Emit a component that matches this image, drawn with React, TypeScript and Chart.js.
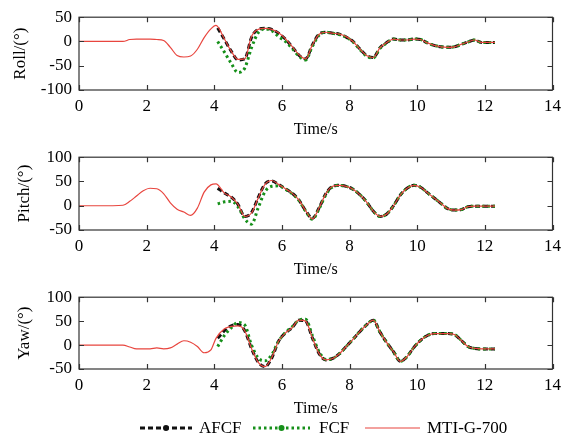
import React, { useEffect, useRef } from 'react';
import { Chart, registerables } from 'chart.js';

Chart.register(...registerables);

const FONT = "'Liberation Serif', 'Times New Roman', Times, serif";
Chart.defaults.font.family = FONT;

// time axis (s)
const mtiTime = [0, 0.5, 1.0, 1.3, 1.5, 1.7, 1.9, 2.1, 2.3, 2.5, 2.7, 2.9, 3.1, 3.3, 3.5, 3.7, 3.9, 4.05, 4.3, 4.5, 4.7, 4.9, 5.1, 5.3, 5.5, 5.7, 5.9, 6.1, 6.3, 6.5, 6.7, 6.9, 7.1, 7.3, 7.5, 7.7, 7.9, 8.1, 8.3, 8.5, 8.7, 8.9, 9.1, 9.3, 9.5, 9.7, 9.9, 10.1, 10.3, 10.5, 10.7, 10.9, 11.1, 11.3, 11.5, 11.7, 11.9, 12.1, 12.3];
const filterTime = [4.1, 4.3, 4.5, 4.7, 4.9, 5.1, 5.3, 5.5, 5.7, 5.9, 6.1, 6.3, 6.5, 6.7, 6.9, 7.1, 7.3, 7.5, 7.7, 7.9, 8.1, 8.3, 8.5, 8.7, 8.9, 9.1, 9.3, 9.5, 9.7, 9.9, 10.1, 10.3, 10.5, 10.7, 10.9, 11.1, 11.3, 11.5, 11.7, 11.9, 12.1, 12.3];

// Roll
const rollMti = [0, 0, 0, 0, 4, 5, 5, 5, 4, 2, -12, -29, -32, -30, -16, 8, 26, 33, 5, -20, -37, -36, 10, 25, 27, 25, 18, 6, -10, -27, -36, -7, 15, 19, 17, 15, 10, 0, -15, -29, -33, -13, -2, 5, 3, 3, 5, 4, -3, -8, -11, -12, -11, -6, -1, 3, -2, -2, -2];
const rollAfcf = [28, 4, -20, -38, -36, 8, 25, 27, 25, 17, 5, -11, -28, -36, -7, 15, 19, 17, 15, 9, 0, -15, -29, -33, -13, -2, 5, 3, 3, 5, 4, -3, -8, -11, -12, -11, -6, -1, 3, -2, -2, -2];
const rollFcf = [0, -22, -45, -64, -55, -13, 18, 26, 22, 10, 0, -14, -30, -38, -10, 13, 19, 17, 14, 9, -1, -16, -30, -34, -14, -3, 5, 3, 3, 5, 4, -3, -8, -11, -12, -11, -6, -1, 3, -2, -2, -2];

// Pitch
const pitchMti = [0, 0, 0, 1, 9, 20, 31, 36, 35, 25, 6, -7, -13, -20, -5, 28, 43, 45, 26, 18, 3, -22, -15, 16, 44, 52, 44, 35, 26, 12, -10, -27, -4, 25, 40, 42, 40, 34, 23, 8, -11, -22, -17, 0, 22, 36, 42, 38, 27, 16, 5, -6, -9, -8, -2, -1, -1, -1, -1];
const pitchAfcf = [36, 26, 18, 3, -22, -14, 17, 45, 51, 44, 35, 26, 12, -10, -26, -4, 25, 40, 42, 40, 34, 23, 8, -11, -22, -17, 0, 22, 36, 42, 38, 27, 16, 5, -6, -9, -8, -2, -1, -1, -1, -1];
const pitchFcf = [4, 8, 9, -2, -27, -38, -4, 29, 40, 41, 34, 25, 11, -11, -28, -6, 23, 39, 42, 40, 34, 23, 8, -11, -22, -17, 0, 22, 36, 42, 38, 27, 16, 5, -6, -9, -8, -2, -1, -1, -1, -1];

// Yaw
const yawMti = [0, 0, 0, 0, -4, -8, -8, -8, -6, -8, -6, 2, 9, 6, -3, -16, -10, 14, 34, 39, 40, 30, -7, -36, -45, -26, 8, 25, 36, 52, 50, 15, -18, -31, -28, -18, -3, 12, 28, 42, 52, 27, 5, -14, -34, -24, -5, 10, 20, 24, 24, 24, 22, 10, -3, -7, -8, -8, -8];
const yawAfcf = [14, 30, 40, 43, 30, -7, -36, -45, -27, 8, 25, 36, 52, 50, 15, -18, -31, -28, -18, -3, 12, 28, 42, 52, 27, 5, -14, -34, -24, -5, 10, 20, 24, 24, 24, 22, 10, -3, -7, -8, -8, -8];
const yawFcf = [-3, 20, 36, 47, 42, 0, -27, -33, -20, 8, 26, 38, 52, 54, 20, -14, -30, -28, -18, -3, 12, 28, 42, 52, 27, 5, -14, -34, -24, -5, 10, 20, 24, 24, 24, 22, 10, -3, -7, -8, -8, -8];

const xTicksStep = 2;
const yTicksStep = 50;

const seriesNames = ['AFCF', 'FCF', 'MTI-G-700'];
const RED = '#e8453e';
const GREEN = '#16901a';
const BLACK = '#111111';

const pts = (t: number[], v: number[]) => t.map((x, i) => ({ x, y: v[i] }));

const boxPlugin = {
  id: 'matlabBox',
  afterDraw(chart: any) {
    const { ctx, chartArea } = chart;
    const { left, right, top, bottom } = chartArea;
    const xs = chart.scales.x;
    const ys = chart.scales.y;
    ctx.save();
    ctx.strokeStyle = '#333';
    ctx.lineWidth = 1.2;
    ctx.setLineDash([]);
    ctx.strokeRect(left, top, right - left, bottom - top);
    ctx.beginPath();
    const tl = 5;
    xs.ticks.forEach((t: any) => {
      const px = Math.round(xs.getPixelForValue(t.value)) + 0.5;
      ctx.moveTo(px, bottom);
      ctx.lineTo(px, bottom - tl);
      ctx.moveTo(px, top);
      ctx.lineTo(px, top + tl);
    });
    ys.ticks.forEach((t: any) => {
      const py = Math.round(ys.getPixelForValue(t.value)) + 0.5;
      ctx.moveTo(left, py);
      ctx.lineTo(left + tl, py);
      ctx.moveTo(right, py);
      ctx.lineTo(right - tl, py);
    });
    ctx.stroke();
    ctx.restore();
  },
};

const legendPlugin = {
  id: 'bottomLegend',
  afterDraw(chart: any, _args: any, opts: any) {
    if (!opts || !opts.show) return;
    const { ctx } = chart;
    const y = opts.y;
    const ds = chart.data.datasets;
    const items = [
      { ds: ds[2], x0: 140, x1: 192, tx: 199 },
      { ds: ds[1], x0: 253, x1: 310, tx: 319 },
      { ds: ds[0], x0: 365, x1: 420, tx: 427 },
    ];
    ctx.save();
    items.forEach((it) => {
      const d = it.ds;
      ctx.strokeStyle = d.borderColor;
      ctx.lineWidth = d.borderWidth;
      ctx.setLineDash(d.borderDash || []);
      ctx.lineCap = 'butt';
      ctx.beginPath();
      ctx.moveTo(it.x0, y);
      ctx.lineTo(it.x1, y);
      ctx.stroke();
      ctx.setLineDash([]);
      if (d.legendMarker) {
        ctx.fillStyle = d.borderColor;
        ctx.beginPath();
        ctx.arc((it.x0 + it.x1) / 2, y, 3, 0, Math.PI * 2);
        ctx.fill();
      }
      ctx.fillStyle = '#000';
      ctx.font = `17px ${FONT}`;
      ctx.textBaseline = 'middle';
      ctx.textAlign = 'left';
      ctx.fillText(d.label, it.tx, y + 1);
    });
    ctx.restore();
  },
};

type PanelProps = {
  top: number;
  height: number;
  padTop: number;
  padBottom: number;
  yMin: number;
  yMax: number;
  yLabel: string;
  yTitlePad: number;
  mti: number[];
  afcf: number[];
  fcf: number[];
  legend?: boolean;
};

function Panel(p: PanelProps) {
  const ref = useRef<HTMLCanvasElement>(null);
  useEffect(() => {
    if (!ref.current) return;
    const chart = new Chart(ref.current, {
      type: 'line',
      data: {
        datasets: [
          {
            label: seriesNames[2],
            data: pts(mtiTime, p.mti),
            borderColor: RED,
            borderWidth: 1.2,
            pointRadius: 0,
            cubicInterpolationMode: 'monotone',
            order: 0,
          } as any,
          {
            label: seriesNames[1],
            data: pts(filterTime, p.fcf),
            borderColor: GREEN,
            borderWidth: 3,
            borderDash: [2.5, 3],
            pointRadius: 0,
            cubicInterpolationMode: 'monotone',
            order: 1,
            legendMarker: true,
          } as any,
          {
            label: seriesNames[0],
            data: pts(filterTime, p.afcf),
            borderColor: BLACK,
            borderWidth: 3,
            borderDash: [5, 3],
            pointRadius: 0,
            cubicInterpolationMode: 'monotone',
            order: 2,
            legendMarker: true,
          } as any,
        ],
      },
      options: {
        animation: false,
        responsive: false,
        maintainAspectRatio: false,
        layout: { padding: { top: p.padTop, right: 12, bottom: p.padBottom, left: 0 } },
        plugins: {
          legend: { display: false },
          tooltip: { enabled: false },
          bottomLegend: { show: !!p.legend, y: 148 },
        } as any,
        scales: {
          x: {
            type: 'linear',
            min: 0,
            max: 14,
            ticks: { stepSize: xTicksStep, color: '#000', font: { family: FONT, size: 17 }, padding: 6, maxRotation: 0 },
            grid: { display: false, drawTicks: false },
            border: { display: false },
            title: { display: true, text: 'Time/s', color: '#000', font: { family: FONT, size: 16 }, padding: { top: 0, bottom: 1 } },
            afterFit: (s: any) => { s.height = 50; },
          },
          y: {
            type: 'linear',
            min: p.yMin,
            max: p.yMax,
            ticks: { stepSize: yTicksStep, color: '#000', font: { family: FONT, size: 17 }, padding: 7 },
            grid: { display: false, drawTicks: false },
            border: { display: false },
            title: { display: true, text: p.yLabel, color: '#000', font: { family: FONT, size: 17 }, padding: { top: p.yTitlePad, bottom: 0 } },
            afterFit: (s: any) => { s.width = 79; },
          },
        },
      },
      plugins: [boxPlugin, legendPlugin],
    });
    return () => chart.destroy();
  }, []);
  return (
    <canvas
      ref={ref}
      width={567}
      height={p.height}
      style={{ position: 'absolute', left: 0, top: p.top, width: 567, height: p.height, display: 'block' }}
    />
  );
}

export default function App() {
  useEffect(() => {
    document.body.style.margin = '0';
  }, []);
  return (
    <div style={{ position: 'fixed', left: 0, top: 0, width: 567, height: 438, background: '#fff' }}>
      <Panel top={0} height={140} padTop={16} padBottom={0} yMin={-100} yMax={50} yLabel="Roll/(°)" yTitlePad={10} mti={rollMti} afcf={rollAfcf} fcf={rollFcf} />
      <Panel top={140} height={140} padTop={15} padBottom={0} yMin={-50} yMax={100} yLabel="Pitch/(°)" yTitlePad={14} mti={pitchMti} afcf={pitchAfcf} fcf={pitchFcf} />
      <Panel top={280} height={158} padTop={15} padBottom={19} yMin={-50} yMax={100} yLabel="Yaw/(°)" yTitlePad={14} mti={yawMti} afcf={yawAfcf} fcf={yawFcf} legend />
    </div>
  );
}
